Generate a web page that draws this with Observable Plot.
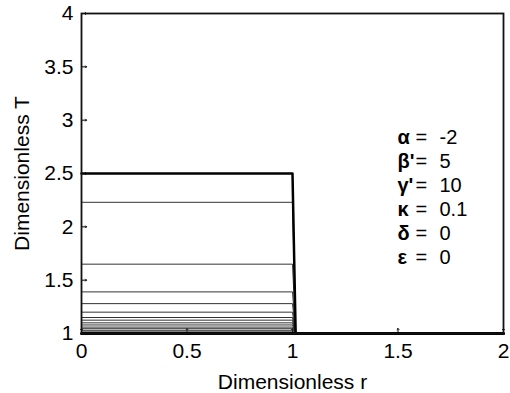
<!DOCTYPE html>
<html>
<head>
<meta charset="utf-8">
<script src="https://cdn.jsdelivr.net/npm/d3@7"></script>
<script src="https://cdn.jsdelivr.net/npm/@observablehq/plot@0.6"></script>
<style>
  html, body { margin: 0; padding: 0; background: #fff; }
  #chart svg { display: block; }
</style>
</head>
<body>
<div id="chart"></div>
<script>
// Temperature plateau levels of the successive profiles (T inside the core, r < 1)
const plateauT = [2.5, 2.23, 1.65, 1.39, 1.28, 1.2, 1.15, 1.125, 1.1, 1.08, 1.06, 1.045, 1.03, 1.015];
// Radial sample points of each profile: flat core, drop at the edge, ambient outside
const profileR = [0, 1.0, 1.015, 2];
// Ambient (dimensionless) temperature reached outside the core
const ambientT = 1;

// Axis ticks
const xTicks = [0, 0.5, 1, 1.5, 2];
const yTicks = [1, 1.5, 2, 2.5, 3, 3.5, 4];

// Model parameters shown on the chart
const paramSymbols = ["α", "β'", "γ'", "κ", "δ", "ε"];
const paramValues = ["-2", "5", "10", "0.1", "0", "0"];

// Build one polyline per profile
const profiles = plateauT.flatMap((T, k) =>
  profileR.map((r, j) => ({curve: k, r, T: j < 2 ? T : ambientT}))
);
const initial = profiles.filter(d => d.curve === 0);
const later = profiles.filter(d => d.curve !== 0);
const ambient = [{r: profileR[0], T: ambientT}, {r: profileR[profileR.length - 1], T: ambientT}];

const legendStyle = {frameAnchor: "top-left", dy: 113, lineAnchor: "top", textAnchor: "start", lineHeight: 1.2, fontSize: 20, fill: "#000"};

const chart = Plot.plot({
  width: 510,
  height: 393,
  marginLeft: 81,
  marginRight: 7,
  marginTop: 13,
  marginBottom: 60,
  style: {fontFamily: "'Liberation Sans', Arial, Helvetica, sans-serif", fontSize: "21px", color: "#000", background: "#fff"},
  x: {domain: [0, 2]},
  y: {domain: [1, 4]},
  marks: [
    Plot.axisX(xTicks, {tickSize: 0, tickPadding: 10, label: null, tickFormat: d => String(d)}),
    Plot.axisY(yTicks, {tickSize: 0, tickPadding: 8, label: null, tickFormat: d => String(d)}),
    // inward tick marks
    Plot.vector(xTicks, {x: d => d, frameAnchor: "bottom", length: 5, rotate: 0, anchor: "start", stroke: "#000", strokeWidth: 1}),
    Plot.vector(yTicks, {y: d => d, frameAnchor: "left", length: 5, rotate: 90, anchor: "start", stroke: "#000", strokeWidth: 1}),
    Plot.line(later, {x: "r", y: "T", z: "curve", stroke: "#333", strokeWidth: 1}),
    Plot.line(initial, {x: "r", y: "T", stroke: "#000", strokeWidth: 2.5}),
    Plot.line(ambient, {x: "r", y: "T", stroke: "#000", strokeWidth: 3}),
    Plot.frame({stroke: "#111", strokeWidth: 1.8}),
    // axis titles
    Plot.text(["Dimensionless r"], {frameAnchor: "bottom", dy: 55, lineAnchor: "bottom", textAnchor: "middle", fill: "#000"}),
    Plot.text(["Dimensionless T"], {frameAnchor: "left", dx: -53, rotate: -90, lineAnchor: "bottom", textAnchor: "middle", fill: "#000"}),
    // parameter block
    Plot.text([paramSymbols.join("\n")], {...legendStyle, dx: 316, fontWeight: "bold"}),
    Plot.text([paramSymbols.map(() => "=").join("\n")], {...legendStyle, dx: 334}),
    Plot.text([paramValues.join("\n")], {...legendStyle, dx: 358})
  ]
});

document.getElementById("chart").appendChild(chart);
</script>
</body>
</html>
